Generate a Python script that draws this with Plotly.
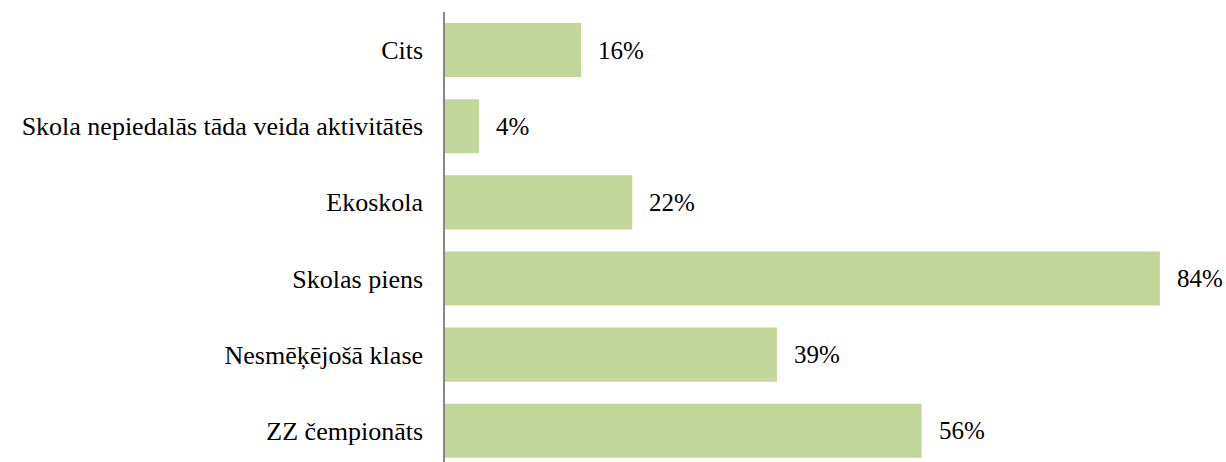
import plotly.graph_objects as go

categories = ["ZZ čempionāts", "Nesmēķējošā klase", "Skolas piens", "Ekoskola",
              "Skola nepiedalās tāda veida aktivitātēs", "Cits"]
values = [56, 39, 84, 22, 4, 16]
labels = ["56%", "39%", "84%", "22%", "4%", "16%"]

FONT = "Liberation Serif, Times New Roman, serif"

fig = go.Figure(go.Bar(
    y=categories, x=values, orientation="h",
    marker=dict(color="#C4D79B", line=dict(width=0)),
    hoverinfo="skip",
))

for c, v, t in zip(categories, values, labels):
    fig.add_annotation(x=v, y=c, text=t, showarrow=False, xanchor="left",
                       xshift=15, font=dict(family=FONT, size=25, color="#000"))

fig.update_layout(
    width=1226, height=462,
    margin=dict(l=445, r=15, t=12, b=0, autoexpand=False),
    paper_bgcolor="white", plot_bgcolor="white",
    bargap=0.29,
    showlegend=False,
    font=dict(family=FONT, size=26, color="#000"),
    xaxis=dict(range=[0, 90], visible=False, showgrid=False, zeroline=False),
    yaxis=dict(range=[-0.41, 5.5], showline=True, linecolor="#888888", linewidth=1.5,
               ticks="", ticklabelstandoff=15, showgrid=False, zeroline=False,
               automargin=False,
               tickfont=dict(family=FONT, size=26, color="#000")),
)

fig.write_html("out.html", config={"displayModeBar": False},
               post_script="document.body.style.margin='0';document.body.style.overflow='hidden';")
